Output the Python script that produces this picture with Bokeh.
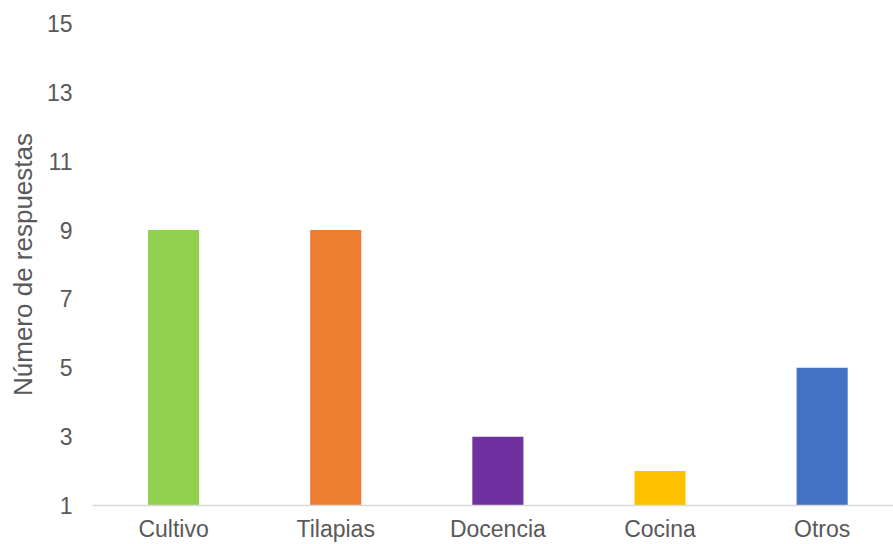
from bokeh.plotting import figure
from bokeh.models import FixedTicker, Range1d
from bokeh.embed import file_html
from bokeh.resources import INLINE

categories = ["Cultivo", "Tilapias", "Docencia", "Cocina", "Otros"]
values = [9, 9, 3, 2, 5]
colors = ["#92D050", "#ED7D31", "#7030A0", "#FFC000", "#4472C4"]
y_ticks = [1, 3, 5, 7, 9, 11, 13, 15]

xs = list(range(len(categories)))

p = figure(width=893, height=544, output_backend="svg", toolbar_location=None,
           x_range=Range1d(-0.5, 4.44), y_range=Range1d(1, 15),
           min_border_left=92, min_border_right=0, min_border_top=23, min_border_bottom=39)
p.outline_line_color = None
p.background_fill_color = "white"
p.border_fill_color = "white"

p.vbar(x=xs, top=values, bottom=1, width=0.315, color=colors, line_color=None)

p.xgrid.visible = False
p.ygrid.visible = False

p.xaxis.ticker = FixedTicker(ticks=xs)
p.xaxis.major_label_overrides = {i: c for i, c in zip(xs, categories)}
p.xaxis.axis_line_color = "#D9D9D9"
p.xaxis.axis_line_width = 1.5
p.xaxis.major_tick_line_color = None
p.xaxis.minor_tick_line_color = None
p.xaxis.major_tick_out = 0
p.xaxis.major_tick_in = 0
p.xaxis.major_label_text_font = "Liberation Sans"
p.xaxis.major_label_text_font_size = "23px"
p.xaxis.major_label_text_color = "#595959"
p.xaxis.major_label_standoff = 10

p.yaxis.ticker = FixedTicker(ticks=y_ticks)
p.yaxis.axis_line_color = None
p.yaxis.major_tick_line_color = None
p.yaxis.minor_tick_line_color = None
p.yaxis.major_tick_out = 0
p.yaxis.major_tick_in = 0
p.yaxis.major_label_text_font = "Liberation Sans"
p.yaxis.major_label_text_font_size = "23px"
p.yaxis.major_label_text_color = "#595959"
p.yaxis.major_label_standoff = 20
p.yaxis.axis_label = "Número de respuestas"
p.yaxis.axis_label_text_font = "Liberation Sans"
p.yaxis.axis_label_text_font_size = "26px"
p.yaxis.axis_label_text_font_style = "normal"
p.yaxis.axis_label_text_color = "#595959"
p.yaxis.axis_label_standoff = 6

open("out.html", "w").write(file_html(p, INLINE))
